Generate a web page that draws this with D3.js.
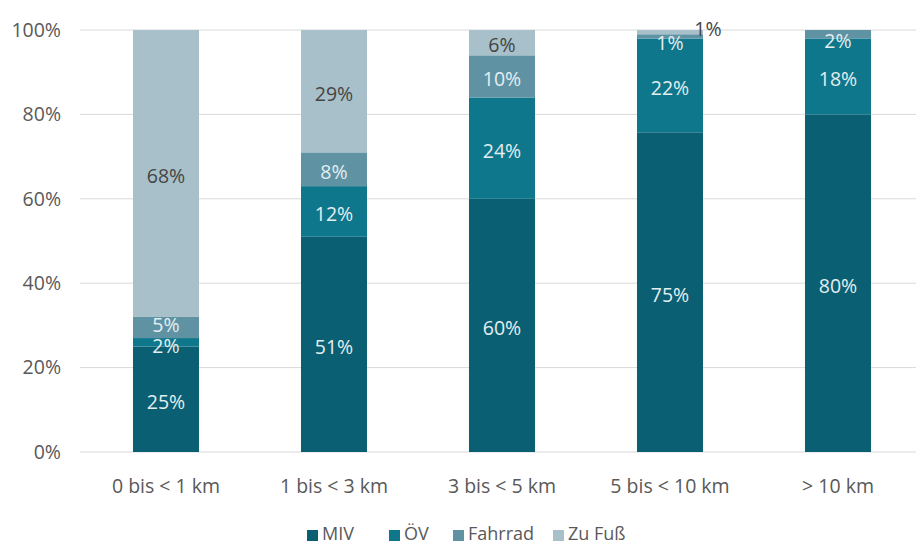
<!DOCTYPE html>
<html><head><meta charset="utf-8">
<script src="https://cdn.jsdelivr.net/npm/d3@7"></script>
<style>body{margin:0;background:#fff}svg{display:block}text{font-family:"Open Sans","Noto Sans",sans-serif}</style>
</head><body><svg id="c" width="916" height="546"></svg>
<script>
const categories = ["0 bis < 1 km","1 bis < 3 km","3 bis < 5 km","5 bis < 10 km","> 10 km"];
const seriesNames = ["MIV","ÖV","Fahrrad","Zu Fuß"];
const miv = [25,51,60,75,80];
const oev = [2,12,24,22,18];
const fahrrad = [5,8,10,1,2];
const zuFuss = [68,29,6,1,0];
const yTicks = [0,0.2,0.4,0.6,0.8,1];
const colors = ["#0b5f72","#0e778b","#5f93a4","#a8c0c9"];
const labelColors = ["#e4eef1","#e4eef1","#e4eef1","#454545"];

const rows = categories.map((c,i)=>({cat:c,"MIV":miv[i],"ÖV":oev[i],"Fahrrad":fahrrad[i],"Zu Fuß":zuFuss[i]}));
const stack = d3.stack().keys(seriesNames).offset(d3.stackOffsetExpand);
const series = stack(rows);
const FS = 19.5;
const FF = '"Open Sans","Noto Sans",sans-serif';

const svg = d3.select("#c");
const x = d3.scaleBand().domain(categories).range([82,922]).paddingInner(0.607).paddingOuter(0.3035);
const y = d3.scaleLinear().domain([0,1]).range([452,30]);

// grid
svg.append("g").selectAll("line").data(yTicks).join("line")
  .attr("x1",80).attr("x2",916).attr("y1",d=>y(d)).attr("y2",d=>y(d))
  .attr("stroke","#d9d9d9").attr("stroke-width",1);

// y axis labels
const yAxis = d3.axisLeft(y).tickValues(yTicks).tickFormat(d3.format(".0%")).tickSize(0).tickPadding(0);
const ya = svg.append("g").attr("transform","translate(61,0)").call(yAxis);
ya.select(".domain").remove();
ya.selectAll("text").attr("font-size",FS).attr("fill","#595959").attr("font-family",FF);

// bars
const g = svg.append("g");
series.forEach((s,si)=>{
  g.append("g").selectAll("rect").data(s).join("rect")
    .attr("x",d=>x(d.data.cat)).attr("width",x.bandwidth())
    .attr("y",d=>y(d[1])).attr("height",d=>y(d[0])-y(d[1]))
    .attr("fill",colors[si]);
});

// labels
series.forEach((s,si)=>{
  const key = seriesNames[si];
  g.append("g").selectAll("text").data(s.filter(d=>d.data[key]>0)).join("text")
    .attr("x",d=>{
      let cx = x(d.data.cat)+x.bandwidth()/2;
      if(key==="Zu Fuß" && d.data[key]<=1) cx += 38;
      return cx;
    })
    .attr("y",d=>{
      let cy = (y(d[0])+y(d[1]))/2 + 3;
      if(key==="Zu Fuß" && d.data[key]<=1) cy = y(1) - 1;
      if(key==="Fahrrad" && d.data.cat==="5 bis < 10 km") cy = y(d[0]) + 5;
      if(key==="Fahrrad" && d.data.cat==="0 bis < 1 km") cy = y(d[1]) + 8;
      if(key==="ÖV" && d.data.cat==="0 bis < 1 km") cy = y(d[1]) + 8;
      if(key==="Fahrrad" && d.data.cat==="> 10 km") cy = y(d[0]) + 3;
      return cy;
    })
    .attr("dy","0.35em").attr("text-anchor","middle").attr("font-size",FS)
    .attr("fill",labelColors[si])
    .text(d=>d.data[key]+"%");
});

// x labels
const xAxis = d3.axisBottom(x).tickSize(0).tickPadding(0);
const xa = svg.append("g").attr("transform","translate(0,486)").call(xAxis);
xa.select(".domain").remove();
xa.selectAll("text").attr("font-size",FS).attr("fill","#595959").attr("dy","0.35em").attr("font-family",FF);

// legend
const legX = [307,389,453,553];
const lg = svg.append("g");
seriesNames.forEach((n,i)=>{
  lg.append("rect").attr("x",legX[i]).attr("y",530).attr("width",11).attr("height",11).attr("fill",colors[i]);
  lg.append("text").attr("x",legX[i]+15).attr("y",534).attr("dy","0.35em").attr("font-size",18).attr("fill","#595959").text(n);
});
</script></body></html>
